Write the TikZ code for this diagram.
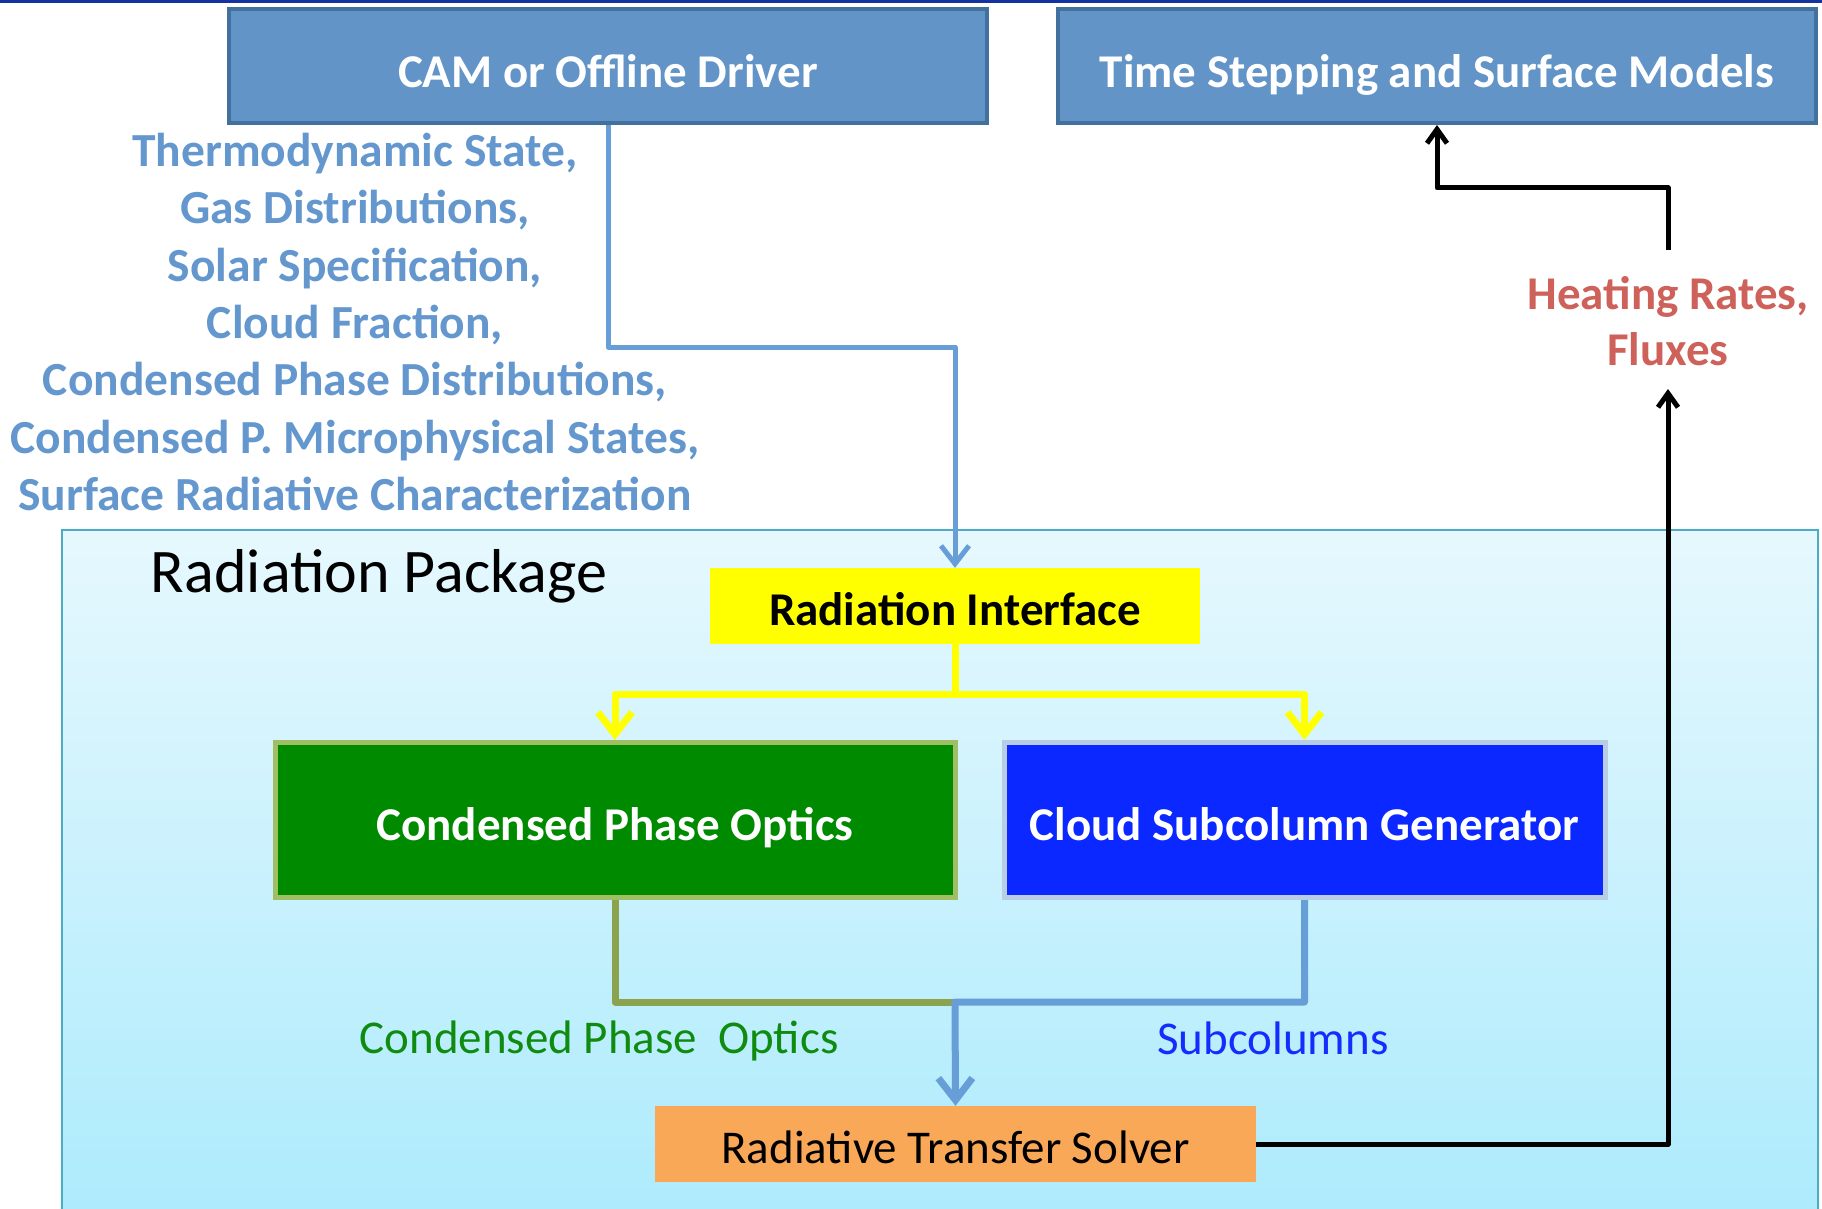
\documentclass[tikz,border=0pt]{standalone}
\usepackage{fontspec}
\setmainfont{Carlito}
\usetikzlibrary{arrows.meta,calc}
\definecolor{topblue}{RGB}{20,50,160}
\definecolor{boxfill}{RGB}{98,148,200}
\definecolor{boxedge}{RGB}{65,113,156}
\definecolor{listblue}{RGB}{99,151,206}
\definecolor{pkgtop}{RGB}{230,248,254}
\definecolor{pkgbot}{RGB}{173,235,252}
\definecolor{pkgedge}{RGB}{75,172,198}
\definecolor{yel}{RGB}{255,255,0}
\definecolor{cpgreen}{RGB}{0,138,0}
\definecolor{cpedge}{RGB}{160,190,100}
\definecolor{csblue}{RGB}{10,40,255}
\definecolor{csedge}{RGB}{185,205,229}
\definecolor{solverfill}{RGB}{249,168,87}
\definecolor{olivec}{RGB}{139,162,78}
\definecolor{linkblue}{RGB}{104,158,216}
\definecolor{lblgreen}{RGB}{15,140,15}
\definecolor{lblblue}{RGB}{20,45,255}
\definecolor{heatred}{RGB}{206,98,90}
\begin{document}
\begin{tikzpicture}[x=1pt,y=-1pt,
  bigfont/.style={font=\bfseries\fontsize{47}{56}\selectfont},
  regfont/.style={font=\fontsize{47}{56}\selectfont},
  topbox/.style={draw=boxedge,line width=4pt,fill=boxfill,text=white,bigfont,
    minimum width=758pt,minimum height=114pt,inner sep=0pt,text height=44pt,text depth=0pt},
  midbox/.style={line width=5pt,text=white,bigfont,minimum height=155pt,inner sep=0pt,
    text height=40pt,text depth=0pt},
  flatbox/.style={minimum height=76pt,inner sep=0pt,text height=39pt,text depth=0pt},
  bluelink/.style={draw=linkblue,line width=5pt,line join=round},
  yellink/.style={draw=yel,line width=7pt,line join=round,
    -{Straight Barb[length=22pt,width=34pt]}},
  olivelink/.style={draw=olivec,line width=7pt,line join=round},
  blacklink/.style={draw=black,line width=5pt,line join=round,
    -{Straight Barb[length=14pt,width=20pt]}}
]
\useasboundingbox (0,0) rectangle (1822,1209);
\fill[topblue] (0,0) rectangle (1822,3);
% package container
\shade[top color=pkgtop,bottom color=pkgbot] (62,530) rectangle (1818,1215);
\draw[pkgedge,line width=2.5pt] (62,1215) -- (62,530) -- (1818,530) -- (1818,1215);

\node[topbox] (cam) at (608,66) {CAM or Offline Driver};
\node[topbox] (time) at (1437,66) {Time Stepping and Surface Models};

\node[font=\bfseries\fontsize{47.5}{57.3}\selectfont,text=listblue,align=center,inner sep=0pt] (inputs) at (355,322)
 {Thermodynamic State,\\ Gas Distributions,\\ Solar Specification,\\ Cloud Fraction,\\
  Condensed Phase Distributions,\\ Condensed P. Microphysical States,\\ Surface Radiative Characterization};

\node[font=\fontsize{62}{74}\selectfont,inner sep=0pt] (pkg) at (379,576.5) {Radiation Package};

\node[flatbox,fill=yel,bigfont,minimum width=490pt] (intf) at (955,606) {Radiation Interface};
\node[midbox,draw=cpedge,fill=cpgreen,minimum width=680pt] (cpo) at (615,820) {Condensed Phase Optics};
\node[midbox,draw=csedge,fill=csblue,minimum width=601pt] (csg) at (1304.5,820) {Cloud Subcolumn Generator};
\node[flatbox,fill=solverfill,regfont,minimum width=601pt] (solver) at (955.5,1144) {Radiative Transfer Solver};

\node[regfont,text=lblgreen,inner sep=0pt] (lcpo) at (599,1041) {Condensed Phase\ \ Optics};
\node[regfont,text=lblblue,inner sep=0pt] (lsub) at (1273,1038) {Subcolumns};

\node[bigfont,text=heatred,align=center,inner sep=0pt] (heat) at (1668,321) {Heating Rates,\\ Fluxes};
\coordinate (hbot) at (1668,389);
\coordinate (htop) at (1668,250);

% CAM -> interface
\coordinate (bend) at (955,347);
\draw[bluelink,-{Straight Barb[length=18pt,width=28pt]}] (cam.south) |- (bend) -- (intf.north);
% interface -> boxes
\coordinate (split) at (955,694);
\draw[yellink] (intf.south) -- (split) -| (cpo.north);
\draw[yellink] (split) -| (csg.north);
% boxes -> solver
\coordinate (join) at (955,1002);
\draw[olivelink] (cpo.south) |- (join);
\draw[bluelink,line width=7pt,-{Straight Barb[length=22pt,width=34pt]}] (csg.south) |- (join) -- (solver.north);
% solver -> heating -> time stepping
\draw[blacklink] (solver.east) -| (hbot);
\draw[blacklink] (htop) -- ++(0,-62) -| (time.south);
\end{tikzpicture}
\end{document}
